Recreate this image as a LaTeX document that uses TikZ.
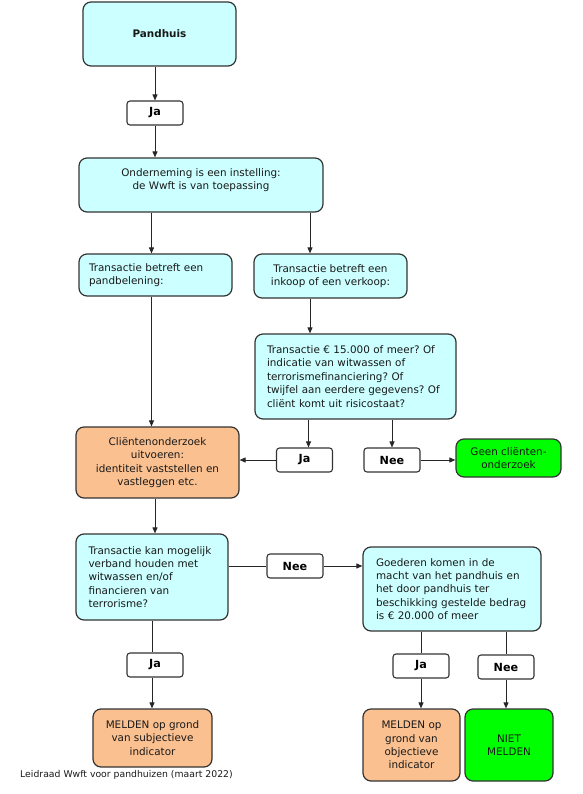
\documentclass[tikz,border=0pt]{standalone}
\usepackage{fontspec}
\setmainfont{DejaVu Sans}
\usetikzlibrary{arrows.meta}
\definecolor{cyanfill}{HTML}{CCFFFF}
\definecolor{orangefill}{HTML}{FAC090}
\definecolor{greenfill}{HTML}{00FF00}
\definecolor{edge}{HTML}{333333}
\frenchspacing
\begin{document}
\begin{tikzpicture}[x=1pt,y=1pt,
  box/.style={draw=edge, line width=1.2pt, rounded corners=8pt, inner sep=0pt, font=\frenchspacing\fontsize{10.4}{13.4}\selectfont, text=black!90},
  cbox/.style={box, fill=cyanfill},
  obox/.style={box, fill=orangefill},
  gbox/.style={box, fill=greenfill},
  ans/.style={draw=edge, line width=1.1pt, rounded corners=3pt, fill=white, minimum width=56pt, minimum height=24pt, inner sep=0pt, font=\fontsize{11.2}{13}\selectfont\bfseries},
  conn/.style={draw=black!85, line width=0.9pt},
  arr/.style={conn, -{Triangle[length=6pt,width=5pt]}},
  sz/.style 2 args={minimum width=#1pt, minimum height=#2pt},
]
\useasboundingbox (0,0) rectangle (582,-794);

\node[cbox, sz={153}{64}, font=\fontsize{10.4}{13.4}\selectfont\bfseries] (pand) at (159.5,-34) {Pandhuis};
\node[ans] (ja1) at (155,-113) {Ja};
\node[cbox, sz={244}{54}, align=center, text depth=12pt] (ond) at (201,-185) {Onderneming is een instelling:\\de Wwft is van toepassing};
\node[cbox, sz={153}{42}, text width=133pt, inner xsep=10pt, align=left] (pb) at (155.5,-275) {Transactie betreft een\\pandbelening:};
\node[cbox, sz={153}{44}, align=center] (ink) at (330.5,-276) {Transactie betreft een\\inkoop of een verkoop:};
\node[cbox, sz={201}{85}, text width=177pt, inner xsep=12pt, align=left] (tr) at (355.5,-376.5) {Transactie € 15.000 of meer? Of\\indicatie van witwassen of\\terrorismefinanciering? Of\\twijfel aan eerdere gegevens? Of\\cliënt komt uit risicostaat?};
\node[obox, sz={163}{71}, align=center] (cl) at (157.5,-462.5) {Cliëntenonderzoek\\uitvoeren:\\identiteit vaststellen en\\vastleggen etc.};
\node[ans] (ja2) at (304.5,-460) {Ja};
\node[ans] (nee1) at (392,-460) {Nee};
\node[gbox, sz={105}{38}, align=center] (geen) at (508.5,-458) {Geen cliënten-\\onderzoek};
\node[cbox, sz={152}{86}, text width=127pt, inner xsep=12.5pt, align=left] (tk) at (152,-577) {Transactie kan mogelijk\\verband houden met\\witwassen en/of\\financieren van\\terrorisme?};
\node[ans] (nee2) at (295,-566) {Nee};
\node[cbox, sz={178}{84}, text width=152pt, inner xsep=13pt, align=left] (goed) at (452,-589) {Goederen komen in de\\macht van het pandhuis en\\het door pandhuis ter\\beschikking gestelde bedrag\\is € 20.000 of meer};
\node[ans] (ja3) at (155,-665) {Ja};
\node[ans] (ja4) at (421,-666) {Ja};
\node[ans] (nee3) at (506,-667) {Nee};
\node[obox, sz={119}{58}, align=center] (ms) at (152.5,-738) {MELDEN op grond\\van subjectieve\\indicator};
\node[obox, sz={97}{72}, align=center] (mo) at (411.5,-745) {MELDEN op\\grond van\\objectieve\\indicator};
\node[gbox, sz={88}{72}, align=center] (niet) at (509,-745) {NIET\\MELDEN};
\node[font=\fontsize{9.3}{11}\selectfont, anchor=west, inner sep=0pt, text=black!90] (foot) at (20,-775) {Leidraad Wwft voor pandhuizen (maart 2022)};

\coordinate (xl) at (151.5,0);
\coordinate (xr) at (310,0);
\coordinate (xc) at (155,0);
\draw[arr] (ja1.north |- pand.south) -- (ja1.north);
\draw[arr] (ja1.south) -- (ja1.south |- ond.north);
\draw[arr] (xl |- ond.south) -- (xl |- pb.north);
\draw[arr] (xr |- ond.south) -- (xr |- ink.north);
\draw[arr] (xr |- ink.south) -- (xr |- tr.north);
\draw[arr] (xl |- pb.south) -- (xl |- cl.north);
\draw[arr] ([xshift=4pt]ja2.north |- tr.south) -- ([xshift=4pt]ja2.north);
\draw[arr] (nee1.north |- tr.south) -- (nee1.north);
\draw[arr] (ja2.west) -- (ja2.west -| cl.east);
\draw[arr] (nee1.east) -- (nee1.east -| geen.west);
\draw[arr] (xc |- cl.south) -- (xc |- tk.north);
\draw[conn] (tk.east |- nee2.west) -- (nee2.west);
\draw[arr] (nee2.east) -- (nee2.east -| goed.west);
\draw[conn] (tk.south) -- (tk.south |- ja3.north);
\draw[arr] (tk.south |- ja3.south) -- (tk.south |- ms.north);
\draw[conn] (ja4.north |- goed.south) -- (ja4.north);
\draw[arr] (ja4.south) -- (ja4.south |- mo.north);
\draw[conn] (nee3.north |- goed.south) -- (nee3.north);
\draw[arr] (nee3.south) -- (nee3.south |- niet.north);
\end{tikzpicture}
\end{document}
